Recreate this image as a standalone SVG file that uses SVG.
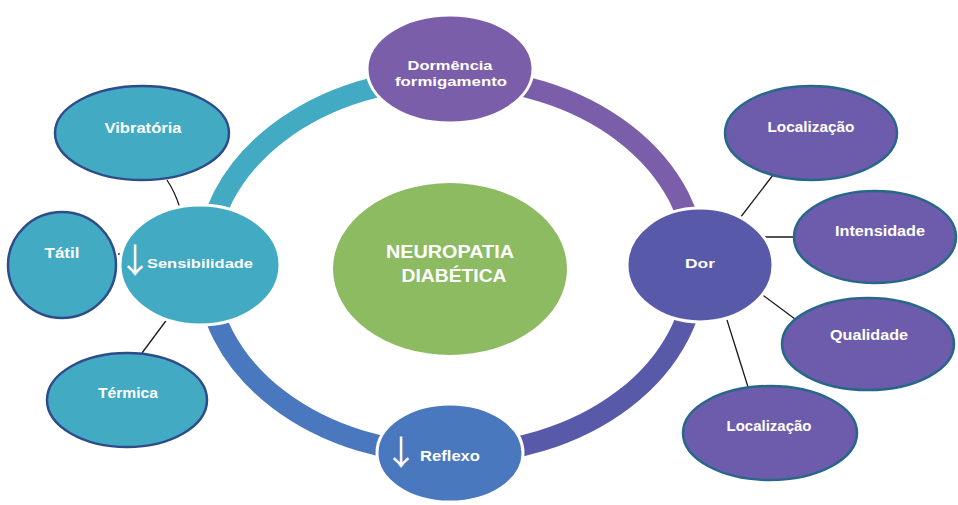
<svg xmlns="http://www.w3.org/2000/svg" width="958" height="505" viewBox="0 0 958 505">
<style>
  .ring{fill:none;stroke-width:21}
  .hub{stroke:#ffffff;stroke-width:3}
  .sat-l{fill:#42AAC3;stroke:#2E4C8A;stroke-width:2.5}
  .sat-r{fill:#6D5CAB;stroke:#26678A;stroke-width:2.5}
  .lbl{font-family:"Liberation Sans",Arial,sans-serif;font-weight:bold;fill:#ffffff;text-anchor:middle}
  .arrow{font-family:"Noto Sans CJK JP","DejaVu Sans",sans-serif;fill:#ffffff;text-anchor:middle}
  .conn line,.conn path{stroke:#1a1a1a;stroke-width:1.3;fill:none}
</style>
<rect width="958" height="505" fill="#ffffff"/>
<g id="ring">
  <path class="ring" stroke="#42AAC3" d="M206 266 A245 188 0 0 1 451 78"/>
  <path class="ring" stroke="#7B5EA9" d="M451 78 A245 188 0 0 1 696 266"/>
  <path class="ring" stroke="#5859A8" d="M696 266 A245 188 0 0 1 451 454"/>
  <path class="ring" stroke="#4A78BE" d="M451 454 A245 188 0 0 1 206 266"/>
</g>
<g id="connectors" class="conn">
  <path d="M167 180 Q175 192 180 208"/>
  <line x1="118" y1="254" x2="131" y2="254" stroke-width="2.5"/>
  <line x1="168" y1="318" x2="142" y2="353"/>
  <line x1="740" y1="218" x2="773" y2="175"/>
  <line x1="758" y1="237" x2="795" y2="237"/>
  <line x1="760" y1="293" x2="795" y2="319"/>
  <line x1="727" y1="320" x2="748" y2="387"/>
</g>
<g id="center">
  <ellipse cx="450" cy="269" rx="117" ry="86" fill="#8DBB62"/>
  <text class="lbl" x="450" y="258" font-size="18" textLength="128" lengthAdjust="spacingAndGlyphs">NEUROPATIA</text>
  <text class="lbl" x="454" y="282" font-size="18" textLength="105" lengthAdjust="spacingAndGlyphs">DIABÉTICA</text>
</g>
<g id="dormencia">
  <ellipse class="hub" cx="450" cy="69" rx="83" ry="54" fill="#7B5EA9"/>
  <text class="lbl" x="450" y="70" font-size="12.5" textLength="85" lengthAdjust="spacingAndGlyphs">Dormência</text>
  <text class="lbl" x="451" y="86" font-size="12.5" textLength="112" lengthAdjust="spacingAndGlyphs">formigamento</text>
</g>
<g id="sensibilidade">
  <ellipse class="hub" cx="200" cy="265" rx="80" ry="60" fill="#42AAC3"/>
  <text class="arrow" x="135" y="273" font-size="34">↓</text>
  <text class="lbl" x="200" y="268" font-size="13" textLength="106" lengthAdjust="spacingAndGlyphs">Sensibilidade</text>
</g>
<g id="dor">
  <ellipse class="hub" cx="700" cy="265" rx="73" ry="57" fill="#5859A8"/>
  <text class="lbl" x="700" y="268" font-size="13" textLength="30" lengthAdjust="spacingAndGlyphs">Dor</text>
</g>
<g id="reflexo">
  <ellipse class="hub" cx="450" cy="453" rx="73" ry="49" fill="#4A78BE"/>
  <text class="arrow" x="401" y="465" font-size="34">↓</text>
  <text class="lbl" x="450" y="461" font-size="14" textLength="60" lengthAdjust="spacingAndGlyphs">Reflexo</text>
</g>
<g id="vibratoria">
  <ellipse class="sat-l" cx="142" cy="133" rx="87" ry="47"/>
  <text class="lbl" x="143" y="133" font-size="15" textLength="77" lengthAdjust="spacingAndGlyphs">Vibratória</text>
</g>
<g id="tatil">
  <ellipse class="sat-l" cx="62" cy="265" rx="54" ry="53"/>
  <text class="lbl" x="62" y="258" font-size="15" textLength="35" lengthAdjust="spacingAndGlyphs">Tátil</text>
</g>
<g id="termica">
  <ellipse class="sat-l" cx="127" cy="400" rx="80" ry="47"/>
  <text class="lbl" x="128" y="398" font-size="15" textLength="60" lengthAdjust="spacingAndGlyphs">Térmica</text>
</g>
<g id="localizacao1">
  <ellipse class="sat-r" cx="811" cy="133" rx="86" ry="47"/>
  <text class="lbl" x="811" y="132" font-size="14" font-weight="normal" textLength="87" lengthAdjust="spacingAndGlyphs">Localização</text>
</g>
<g id="intensidade">
  <ellipse class="sat-r" cx="875" cy="237" rx="81" ry="46"/>
  <text class="lbl" x="880" y="236" font-size="14" textLength="90" lengthAdjust="spacingAndGlyphs">Intensidade</text>
</g>
<g id="qualidade">
  <ellipse class="sat-r" cx="868" cy="344" rx="86" ry="46"/>
  <text class="lbl" x="869" y="340" font-size="14" textLength="78" lengthAdjust="spacingAndGlyphs">Qualidade</text>
</g>
<g id="localizacao2">
  <ellipse class="sat-r" cx="770" cy="433" rx="87" ry="47"/>
  <text class="lbl" x="769" y="431" font-size="14" textLength="85" lengthAdjust="spacingAndGlyphs">Localização</text>
</g>
</svg>
